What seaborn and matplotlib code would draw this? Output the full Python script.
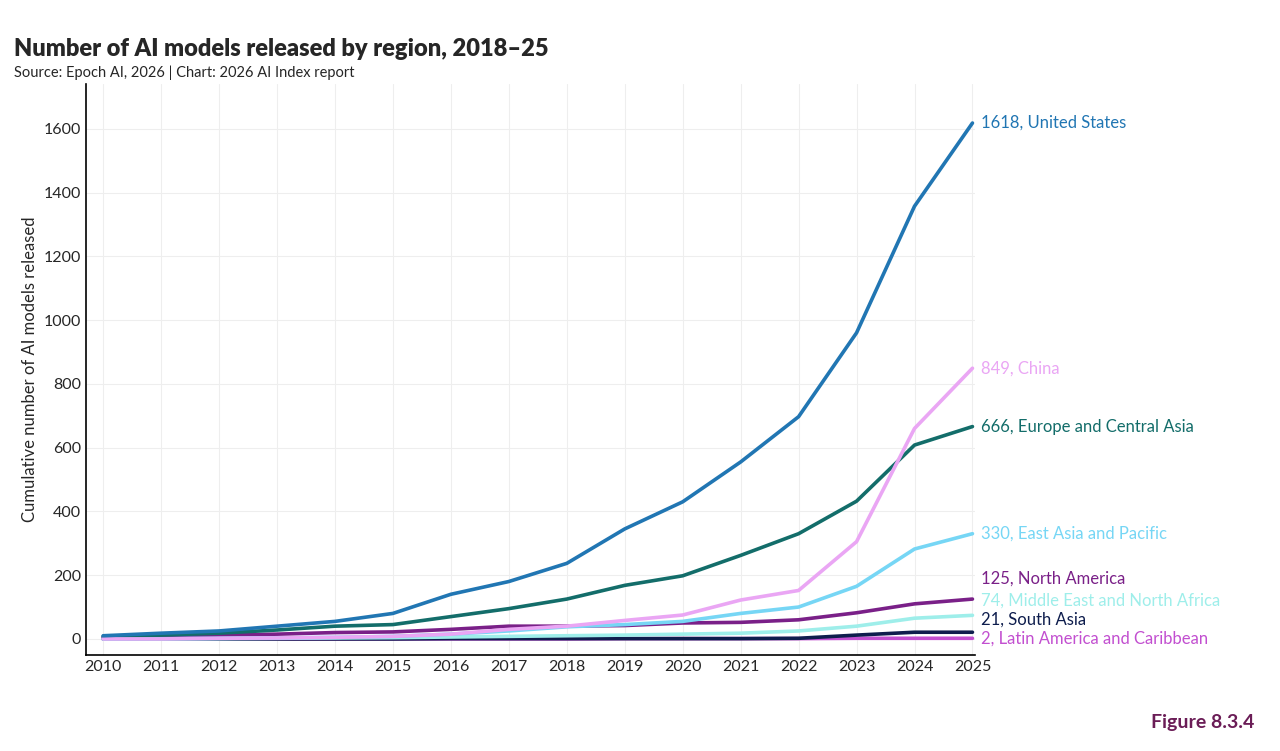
import matplotlib
matplotlib.use("Agg")
import matplotlib.pyplot as plt
import seaborn as sns
import pandas as pd

years = list(range(2010, 2026))
regions = ["United States", "China", "Europe and Central Asia", "East Asia and Pacific",
           "North America", "Middle East and North Africa", "South Asia", "Latin America and Caribbean"]
us = [10, 18, 25, 40, 55, 80, 140, 180, 237, 345, 430, 555, 697, 960, 1357, 1618]
china = [0, 0, 2, 3, 5, 8, 15, 30, 40, 58, 75, 122, 152, 305, 660, 849]
europe = [8, 12, 18, 28, 40, 45, 70, 95, 125, 168, 198, 262, 330, 432, 608, 666]
eap = [0, 1, 2, 3, 5, 8, 15, 25, 38, 45, 55, 80, 100, 165, 282, 330]
na = [5, 8, 12, 15, 20, 22, 30, 40, 40, 42, 50, 52, 60, 82, 110, 125]
mena = [0, 0, 1, 2, 3, 4, 6, 8, 10, 12, 15, 18, 25, 40, 65, 74]
sasia = [0, 0, 0, 0, 0, 0, 1, 1, 1, 1, 1, 1, 2, 12, 21, 21]
latam = [0, 0, 0, 0, 0, 0, 0, 0, 0, 1, 1, 1, 1, 2, 2, 2]
series = [us, china, europe, eap, na, mena, sasia, latam]
colors = ["#2176b3", "#eaa6f4", "#136d6a", "#76d6f5", "#7a2088", "#9eeeea", "#0e1d4d", "#c24fd0"]
label_y = [1618, 849, 666, 330, 190, 120, 60, 2]

rows = []
for r, vals in zip(regions, series):
    for y, v in zip(years, vals):
        rows.append({"Year": y, "Region": r, "Value": v})
df = pd.DataFrame(rows)

sns.set_style("white")
plt.rcParams["font.family"] = ["Lato", "DejaVu Sans"]
fig = plt.figure(figsize=(12.8, 7.51), dpi=100)
ax = fig.add_axes([0.067, 0.128, 0.695, 0.76])
order = regions[::-1]
pal = dict(zip(regions, colors))
sns.lineplot(data=df, x="Year", y="Value", hue="Region", hue_order=order, palette=pal,
             linewidth=2.6, ax=ax, legend=False)
ax.set_xlim(2009.7, 2025.05)
ax.set_ylim(-50, 1740)
ax.set_xticks(years)
ax.set_yticks(range(0, 1601, 200))
ax.tick_params(labelsize=11.5, length=0)
ax.grid(True, color="#eeeeee", linewidth=0.8)
for s in ["top", "right"]:
    ax.spines[s].set_visible(False)
for s in ["left", "bottom"]:
    ax.spines[s].set_color("black")
    ax.spines[s].set_linewidth(1.2)
ax.set_xlabel("")
ax.set_ylabel("Cumulative number of AI models released", fontsize=12)
for r, vals, c, ly in zip(regions, series, colors, label_y):
    ax.text(2025.15, ly, f"{vals[-1]}, {r}", color=c, fontsize=12, va="center", clip_on=False)
fig.text(0.011, 0.925, "Number of AI models released by region, 2018–25", fontsize=17, fontweight="heavy")
fig.text(0.011, 0.898, "Source: Epoch AI, 2026 | Chart: 2026 AI Index report", fontsize=10.5)
fig.text(0.98, 0.03, "Figure 8.3.4", fontsize=14, fontweight="bold", color="#6b1d57", ha="right")
fig.savefig("out.png", dpi=100)
